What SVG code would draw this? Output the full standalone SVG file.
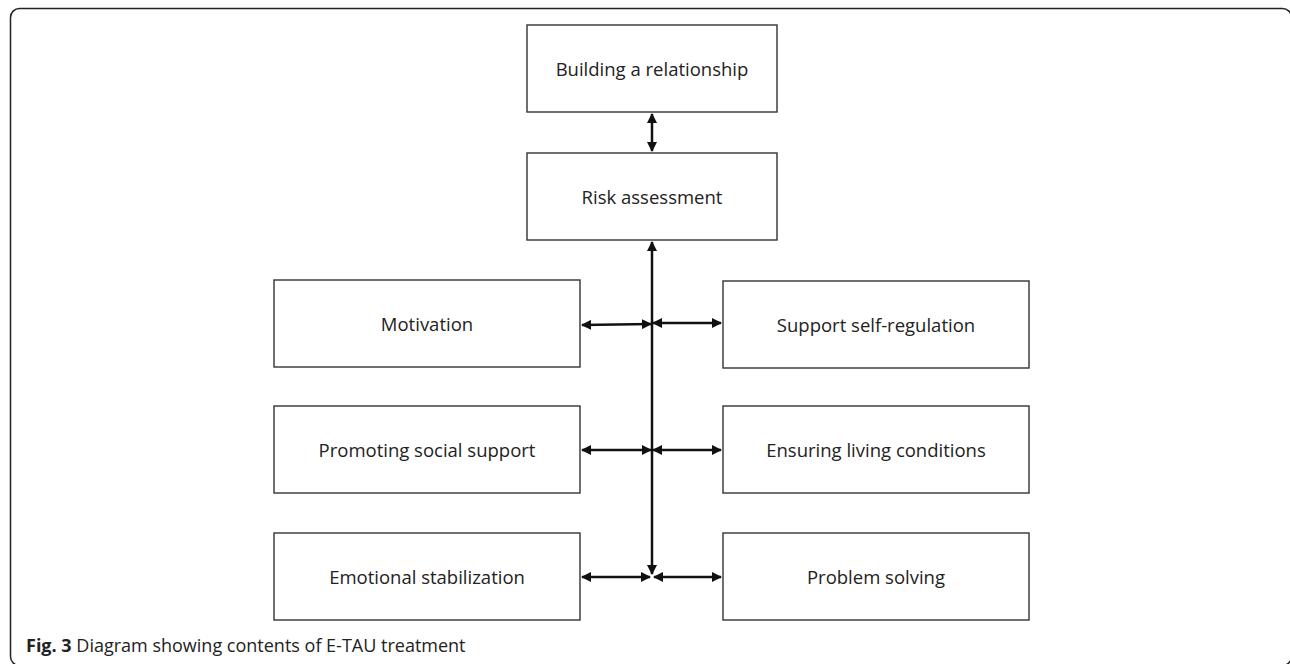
<svg xmlns="http://www.w3.org/2000/svg" width="1290" height="664" viewBox="0 0 1290 664">
<style>
.box{fill:#fff;stroke:#333;stroke-width:1.4}
.lbl{font-family:"Open Sans","Liberation Sans",sans-serif;font-size:18.5px;fill:#222;text-anchor:middle;dominant-baseline:central}
.con{stroke:#111;stroke-width:2.5;fill:none;marker-start:url(#ah);marker-end:url(#ah)}
.cap{font-family:"Open Sans","Liberation Sans",sans-serif;font-size:18px;fill:#222}
</style>
<defs>
<marker id="ah" viewBox="0 0 10 10" refX="9" refY="5" markerWidth="4" markerHeight="4" orient="auto-start-reverse" markerUnits="strokeWidth">
<path d="M0,0 L10,5 L0,10 z" fill="#111"/>
</marker>
</defs>
<rect x="10.5" y="8.5" width="1281" height="657" rx="9" fill="#fff" stroke="#222" stroke-width="1.5"/>
<g id="n-building"><rect class="box" x="527" y="25" width="250" height="87"/><text class="lbl" x="652" y="68">Building a relationship</text></g>
<g id="n-risk"><rect class="box" x="527" y="153" width="250" height="87"/><text class="lbl" x="652" y="196.5">Risk assessment</text></g>
<g id="n-motivation"><rect class="box" x="274" y="280" width="306" height="87"/><text class="lbl" x="427" y="323.5">Motivation</text></g>
<g id="n-selfreg"><rect class="box" x="723" y="281" width="306" height="87"/><text class="lbl" x="876" y="324.5">Support self-regulation</text></g>
<g id="n-social"><rect class="box" x="274" y="406" width="306" height="87"/><text class="lbl" x="427" y="449.5">Promoting social support</text></g>
<g id="n-living"><rect class="box" x="723" y="406" width="306" height="87"/><text class="lbl" x="876" y="449.5">Ensuring living conditions</text></g>
<g id="n-emotional"><rect class="box" x="274" y="533" width="306" height="87"/><text class="lbl" x="427" y="576.5">Emotional stabilization</text></g>
<g id="n-problem"><rect class="box" x="723" y="533" width="306" height="87"/><text class="lbl" x="876" y="576.5">Problem solving</text></g>
<g id="connectors">
<line class="con" x1="652" y1="114" x2="652" y2="151"/>
<line class="con" x1="652" y1="242" x2="652" y2="574"/>
<line class="con" x1="582" y1="325" x2="651" y2="324"/>
<line class="con" x1="653" y1="323" x2="721" y2="323"/>
<line class="con" x1="582" y1="450" x2="651" y2="450"/>
<line class="con" x1="653" y1="450" x2="721" y2="450"/>
<line class="con" x1="582" y1="577" x2="650" y2="577"/>
<line class="con" x1="654" y1="577" x2="721" y2="577"/>
</g>
<text class="cap" x="26" y="652"><tspan font-weight="bold">Fig. 3</tspan> Diagram showing contents of E-TAU treatment</text>
</svg>
